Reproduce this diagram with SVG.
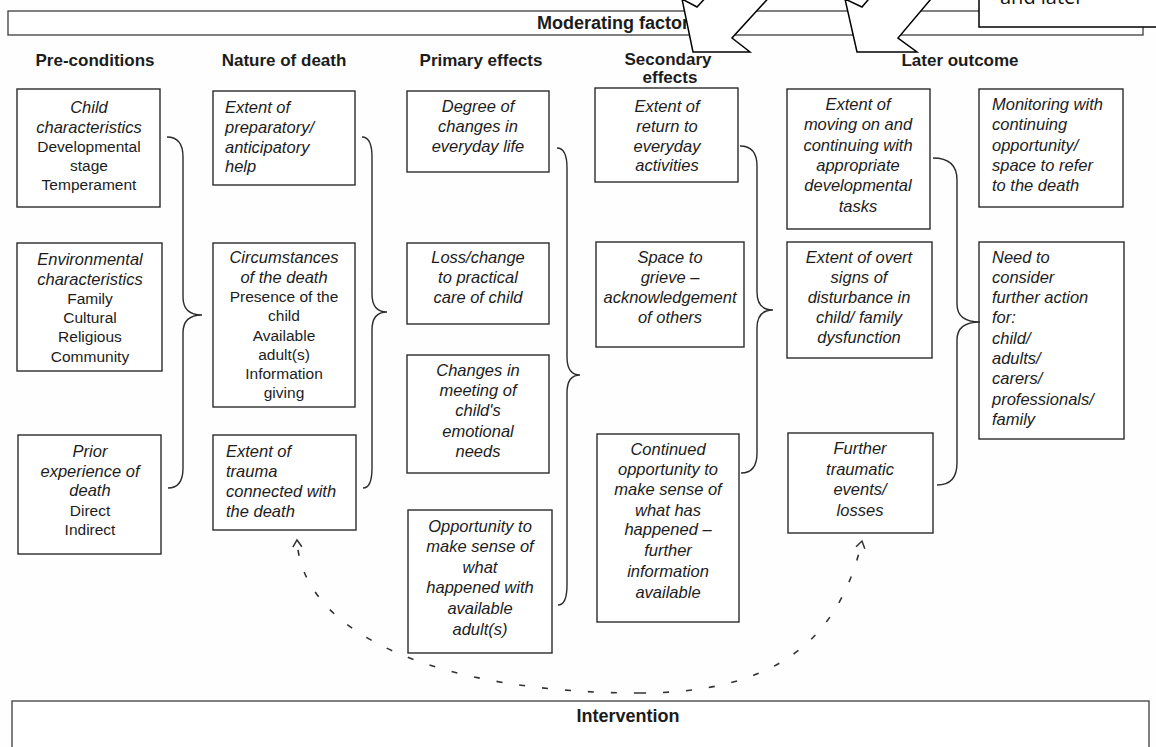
<svg xmlns="http://www.w3.org/2000/svg" width="1156" height="747" viewBox="0 0 1156 747">
  <style>
    .box { fill: #fff; stroke: #2b2b2b; stroke-width: 1.4; }
    .band { fill: #fff; stroke: #4a4a4a; stroke-width: 1.4; }
    .t { font-family: "Liberation Sans", Arial, sans-serif; font-size: 15.5px; fill: #1c1c1c; }
    .i { font-style: italic; font-size: 16.5px; }
    .h { font-weight: bold; font-size: 17px; }
    .ttl { font-weight: bold; font-size: 18px; }
    .c { text-anchor: middle; }
    .brace { fill: none; stroke: #2b2b2b; stroke-width: 1.4; }
    .dash { fill: none; stroke: #333; stroke-width: 1.6; stroke-dasharray: 6 17; }
    .callout { fill: #fff; stroke: #000; stroke-width: 1.5; stroke-linejoin: miter; }
    .note { font-family: "Open Sans", "Liberation Sans", sans-serif; font-size: 20px; fill: #111; }
  </style>
  <defs>
    <marker id="open" markerUnits="userSpaceOnUse" markerWidth="16" markerHeight="16" refX="0" refY="0" viewBox="-10 -8 12 16" orient="auto" overflow="visible">
      <path d="M-7,-4.5 L0,0 L-7,4.5" fill="none" stroke="#333" stroke-width="1.5"/>
    </marker>
  </defs>

  <rect width="1156" height="747" fill="#fefefe"/>

  <!-- top band -->
  <g id="moderating">
    <rect class="band" x="8" y="11" width="1135" height="24"/>
    <text class="t ttl c" x="618" y="29">Moderating factors</text>
  </g>

  <!-- column headings -->
  <g id="headings">
    <text class="t h c" x="95" y="66">Pre-conditions</text>
    <text class="t h c" x="284" y="66">Nature of death</text>
    <text class="t h c" x="481" y="66">Primary effects</text>
    <text class="t h c" x="668" y="65">Secondary</text>
    <text class="t h c" x="670" y="83">effects</text>
    <text class="t h c" x="960" y="66">Later outcome</text>
  </g>

  <!-- Pre-conditions -->
  <g id="child-characteristics">
    <rect class="box" x="17" y="89" width="143" height="118"/>
    <text class="t i c" x="89" y="113">Child</text>
    <text class="t i c" x="89" y="133">characteristics</text>
    <text class="t c" x="89" y="152">Developmental</text>
    <text class="t c" x="89" y="171">stage</text>
    <text class="t c" x="89" y="190">Temperament</text>
  </g>
  <g id="environmental-characteristics">
    <rect class="box" x="17" y="243" width="145" height="128"/>
    <text class="t i c" x="90" y="265">Environmental</text>
    <text class="t i c" x="90" y="285">characteristics</text>
    <text class="t c" x="90" y="304">Family</text>
    <text class="t c" x="90" y="323">Cultural</text>
    <text class="t c" x="90" y="342">Religious</text>
    <text class="t c" x="90" y="362">Community</text>
  </g>
  <g id="prior-experience">
    <rect class="box" x="18" y="435" width="143" height="119"/>
    <text class="t i c" x="90" y="457">Prior</text>
    <text class="t i c" x="90" y="477">experience of</text>
    <text class="t i c" x="90" y="496">death</text>
    <text class="t c" x="90" y="516">Direct</text>
    <text class="t c" x="90" y="535">Indirect</text>
  </g>

  <!-- Nature of death -->
  <g id="preparatory-help">
    <rect class="box" x="213" y="91" width="142" height="94"/>
    <text class="t i" x="225" y="113">Extent of</text>
    <text class="t i" x="225" y="133">preparatory/</text>
    <text class="t i" x="225" y="153">anticipatory</text>
    <text class="t i" x="225" y="172">help</text>
  </g>
  <g id="circumstances">
    <rect class="box" x="213" y="243" width="142" height="164"/>
    <text class="t i c" x="284" y="263">Circumstances</text>
    <text class="t i c" x="284" y="283">of the death</text>
    <text class="t c" x="284" y="302">Presence of the</text>
    <text class="t c" x="284" y="321">child</text>
    <text class="t c" x="284" y="341">Available</text>
    <text class="t c" x="284" y="360">adult(s)</text>
    <text class="t c" x="284" y="379">Information</text>
    <text class="t c" x="284" y="398">giving</text>
  </g>
  <g id="extent-of-trauma">
    <rect class="box" x="213" y="435" width="143" height="95"/>
    <text class="t i" x="226" y="457">Extent of</text>
    <text class="t i" x="226" y="477">trauma</text>
    <text class="t i" x="226" y="497">connected with</text>
    <text class="t i" x="226" y="517">the death</text>
  </g>

  <!-- Primary effects -->
  <g id="everyday-life">
    <rect class="box" x="407" y="91" width="142" height="81"/>
    <text class="t i c" x="478" y="112">Degree of</text>
    <text class="t i c" x="478" y="132">changes in</text>
    <text class="t i c" x="478" y="152">everyday life</text>
  </g>
  <g id="practical-care">
    <rect class="box" x="407" y="243" width="142" height="81"/>
    <text class="t i c" x="478" y="263">Loss/change</text>
    <text class="t i c" x="478" y="283">to practical</text>
    <text class="t i c" x="478" y="303">care of child</text>
  </g>
  <g id="emotional-needs">
    <rect class="box" x="407" y="355" width="142" height="118"/>
    <text class="t i c" x="478" y="376">Changes in</text>
    <text class="t i c" x="478" y="396">meeting of</text>
    <text class="t i c" x="478" y="416">child's</text>
    <text class="t i c" x="478" y="437">emotional</text>
    <text class="t i c" x="478" y="457">needs</text>
  </g>
  <g id="make-sense">
    <rect class="box" x="408" y="510" width="144" height="143"/>
    <text class="t i c" x="480" y="532">Opportunity to</text>
    <text class="t i c" x="480" y="552">make sense of</text>
    <text class="t i c" x="480" y="573">what</text>
    <text class="t i c" x="480" y="593">happened with</text>
    <text class="t i c" x="480" y="614">available</text>
    <text class="t i c" x="480" y="635">adult(s)</text>
  </g>

  <!-- Secondary effects -->
  <g id="everyday-activities">
    <rect class="box" x="595" y="88" width="143" height="94"/>
    <text class="t i c" x="667" y="112">Extent of</text>
    <text class="t i c" x="667" y="132">return to</text>
    <text class="t i c" x="667" y="152">everyday</text>
    <text class="t i c" x="667" y="171">activities</text>
  </g>
  <g id="space-to-grieve">
    <rect class="box" x="596" y="242" width="148" height="105"/>
    <text class="t i c" x="670" y="263">Space to</text>
    <text class="t i c" x="670" y="283">grieve –</text>
    <text class="t i c" x="670" y="303">acknowledgement</text>
    <text class="t i c" x="670" y="323">of others</text>
  </g>
  <g id="continued-opportunity">
    <rect class="box" x="597" y="434" width="142" height="188"/>
    <text class="t i c" x="668" y="455">Continued</text>
    <text class="t i c" x="668" y="475">opportunity to</text>
    <text class="t i c" x="668" y="495">make sense of</text>
    <text class="t i c" x="668" y="516">what has</text>
    <text class="t i c" x="668" y="535">happened –</text>
    <text class="t i c" x="668" y="556">further</text>
    <text class="t i c" x="668" y="577">information</text>
    <text class="t i c" x="668" y="598">available</text>
  </g>

  <!-- Later outcome -->
  <g id="moving-on">
    <rect class="box" x="787" y="89" width="143" height="140"/>
    <text class="t i c" x="858" y="110">Extent of</text>
    <text class="t i c" x="858" y="130">moving on and</text>
    <text class="t i c" x="858" y="151">continuing with</text>
    <text class="t i c" x="858" y="171">appropriate</text>
    <text class="t i c" x="858" y="191">developmental</text>
    <text class="t i c" x="858" y="212">tasks</text>
  </g>
  <g id="overt-signs">
    <rect class="box" x="787" y="242" width="145" height="116"/>
    <text class="t i c" x="859" y="263">Extent of overt</text>
    <text class="t i c" x="859" y="283">signs of</text>
    <text class="t i c" x="859" y="303">disturbance in</text>
    <text class="t i c" x="859" y="323">child/ family</text>
    <text class="t i c" x="859" y="343">dysfunction</text>
  </g>
  <g id="further-events">
    <rect class="box" x="788" y="433" width="145" height="100"/>
    <text class="t i c" x="860" y="454">Further</text>
    <text class="t i c" x="860" y="475">traumatic</text>
    <text class="t i c" x="860" y="495">events/</text>
    <text class="t i c" x="860" y="516">losses</text>
  </g>

  <!-- Right-hand column -->
  <g id="monitoring">
    <rect class="box" x="979" y="89" width="144" height="118"/>
    <text class="t i" x="992" y="110">Monitoring with</text>
    <text class="t i" x="992" y="130">continuing</text>
    <text class="t i" x="992" y="151">opportunity/</text>
    <text class="t i" x="992" y="171">space to refer</text>
    <text class="t i" x="992" y="191">to the death</text>
  </g>
  <g id="further-action">
    <rect class="box" x="979" y="242" width="145" height="197"/>
    <text class="t i" x="992" y="263">Need to</text>
    <text class="t i" x="992" y="283">consider</text>
    <text class="t i" x="992" y="303">further action</text>
    <text class="t i" x="992" y="323">for:</text>
    <text class="t i" x="992" y="344">child/</text>
    <text class="t i" x="992" y="364">adults/</text>
    <text class="t i" x="992" y="384">carers/</text>
    <text class="t i" x="992" y="405">professionals/</text>
    <text class="t i" x="992" y="425">family</text>
  </g>

  <!-- bottom band -->
  <g id="intervention">
    <rect class="band" x="12" y="701" width="1137" height="70"/>
    <text class="t ttl c" x="628" y="722">Intervention</text>
  </g>

  <!-- connectors: braces joining each column to the next, and the dashed feedback loop -->
  <g id="connectors">
    <path class="brace" d="M167,137 Q183,137 183,157 L183,297 Q183,315 202,315 Q183,315 183,333 L183,468 Q183,488 168,488"/>
    <path class="brace" d="M362,137 Q372,137 372,157 L372,294 Q372,312 387,312 Q372,312 372,330 L372,468 Q372,488 363,488"/>
    <path class="brace" d="M557,148 Q567,148 567,168 L567,357 Q567,375 580,375 Q567,375 567,393 L567,585 Q567,605 558,605"/>
    <path class="brace" d="M740,146 Q757,146 757,166 L757,292 Q757,310 773,310 Q757,310 757,328 L757,453 Q757,473 741,473"/>
    <path class="brace" d="M933,158 Q957,158 957,180 L957,304 Q957,322 980,322 Q957,322 957,340 L957,463 Q957,485 937,485"/>
    <path class="dash" d="M640,693 C440,693 302,635 297,540" marker-end="url(#open)"/>
    <path class="dash" d="M640,693 C770,693 838,645 862,541" marker-end="url(#open)"/>
  </g>

  <!-- overlaid callout: two block arrows and a text box at the top right -->
  <g id="callout">
    <polygon class="callout" points="682,-1 693,52 750,52 732,38 785,-20 722,-20 697,7"/>
    <polygon class="callout" points="845,-1 857,52 917,52 898,38 947,-20 885,-20 862,7"/>
    <rect class="callout" x="979" y="-30" width="190" height="57"/>
    <text class="note" x="1000" y="4">and later</text>
  </g>
</svg>
